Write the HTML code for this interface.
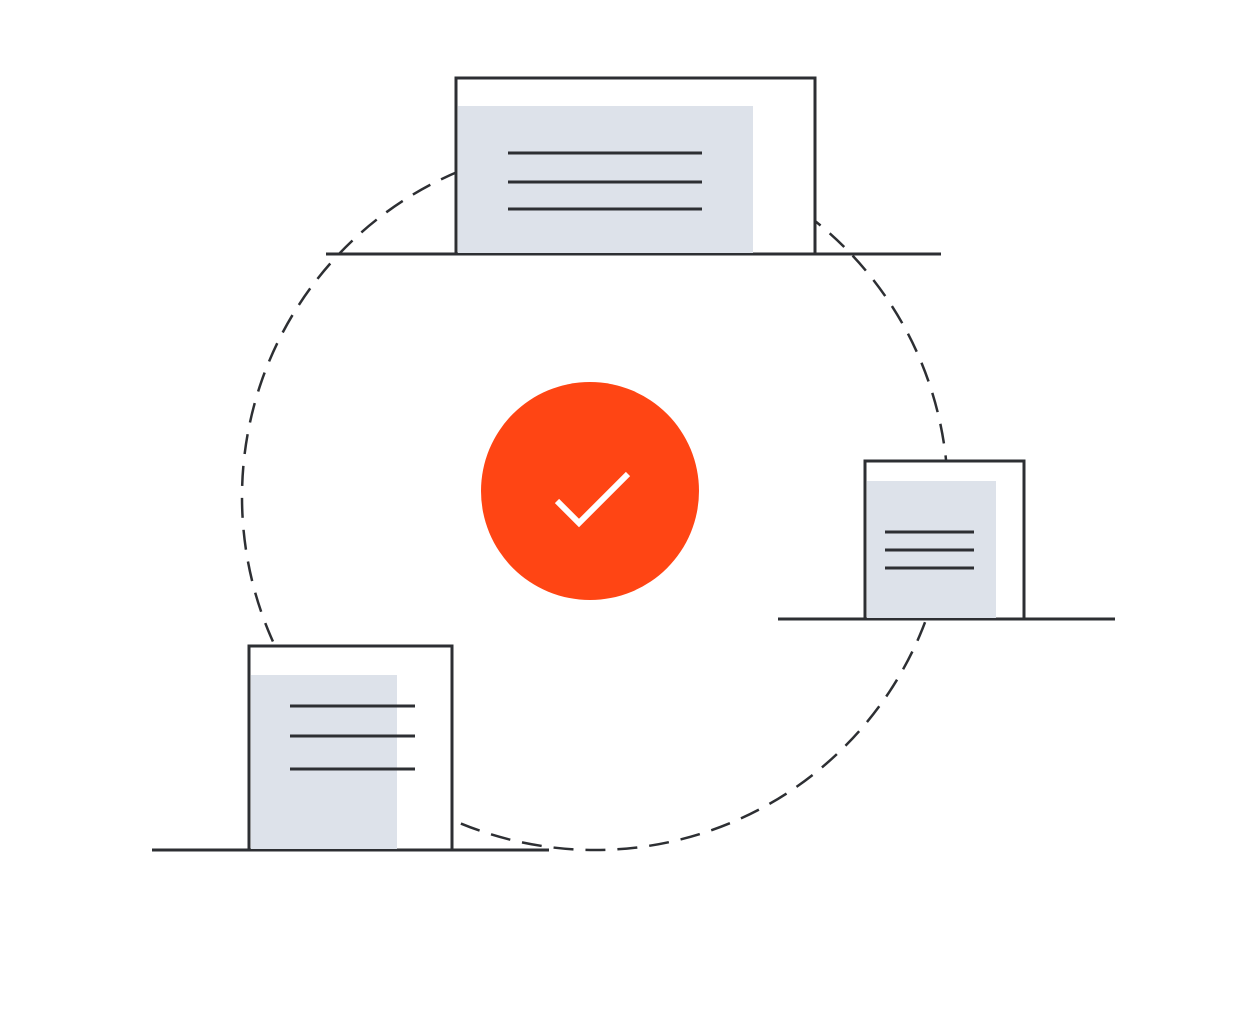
<!DOCTYPE html>
<html><head><meta charset="utf-8"><style>html,body{margin:0;padding:0;background:#fff}svg{display:block}</style></head>
<body>
<svg width="1246" height="1010" viewBox="0 0 1246 1010" xmlns="http://www.w3.org/2000/svg">
<circle cx="595" cy="497" r="353" fill="none" stroke="#2d2f33" stroke-width="2.5" stroke-dasharray="20 12"/>
<!-- top box -->
<line x1="326" y1="254" x2="941" y2="254" stroke="#2d2f33" stroke-width="3"/>
<rect x="456" y="78" width="359" height="176" fill="#fff" stroke="#2d2f33" stroke-width="3"/>
<rect x="458" y="106" width="295" height="147" fill="#dde2ea"/>
<g stroke="#2d2f33" stroke-width="3">
<line x1="508" y1="153" x2="702" y2="153"/><line x1="508" y1="182" x2="702" y2="182"/><line x1="508" y1="209" x2="702" y2="209"/>
</g>
<!-- right box -->
<line x1="778" y1="619" x2="1115" y2="619" stroke="#2d2f33" stroke-width="3"/>
<rect x="865" y="461" width="159" height="158" fill="#fff" stroke="#2d2f33" stroke-width="3"/>
<rect x="867" y="481" width="129" height="137" fill="#dde2ea"/>
<g stroke="#2d2f33" stroke-width="3">
<line x1="885" y1="532" x2="974" y2="532"/><line x1="885" y1="550" x2="974" y2="550"/><line x1="885" y1="568" x2="974" y2="568"/>
</g>
<!-- left box -->
<line x1="152" y1="850" x2="549" y2="850" stroke="#2d2f33" stroke-width="3"/>
<rect x="249" y="646" width="203" height="204" fill="#fff" stroke="#2d2f33" stroke-width="3"/>
<rect x="251" y="675" width="146" height="174" fill="#dde2ea"/>
<g stroke="#2d2f33" stroke-width="3">
<line x1="290" y1="706" x2="415" y2="706"/><line x1="290" y1="736" x2="415" y2="736"/><line x1="290" y1="769" x2="415" y2="769"/>
</g>
<!-- center -->
<circle cx="590" cy="491" r="109" fill="#ff4514"/>
<polyline points="557,501 579,523 628,474" fill="none" stroke="#fff" stroke-width="6"/>
</svg>
</body></html>
